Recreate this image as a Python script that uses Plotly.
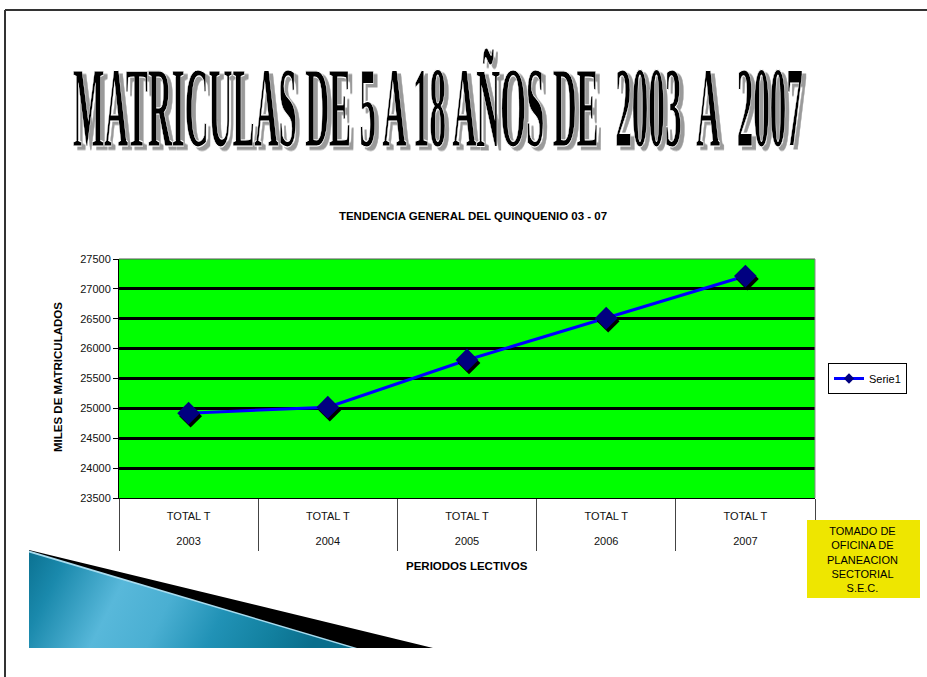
import base64
import plotly.graph_objects as go

# ---------------- data ----------------
years = ["2003", "2004", "2005", "2006", "2007"]
row_labels = ["TOTAL T", "TOTAL T", "TOTAL T", "TOTAL T", "TOTAL T"]
values = [24920, 25020, 25810, 26510, 27215]
y_ticks = [23500, 24000, 24500, 25000, 25500, 26000, 26500, 27000, 27500]
series_name = "Serie1"
main_title = "MATRICULAS DE 5 A 18 AÑOS DE\u00a0 2003\u00a0 A\u00a0 2007"
chart_title = "TENDENCIA GENERAL DEL QUINQUENIO 03 - 07"
x_title = "PERIODOS LECTIVOS"
y_title = "MILES DE MATRICULADOS"
source_note = "TOMADO DE<br>OFICINA DE<br>PLANEACION<br>SECTORIAL<br>S.E.C."

# ---------------- layout geometry (pixels) ----------------
W, H = 927, 677
L, R, T, B = 119, 815, 259, 498
ymin, ymax = y_ticks[0], y_ticks[-1]


def px(x):
    return (x - L) / (R - L)


def py(y):
    return (B - y) / (B - T)


idx = list(range(len(years)))
n = len(years)
# marker shadow offsets in data units (2px right, 3px down)
dx = 2 * n / (R - L)
dy = 3 * (ymax - ymin) / (B - T)

ARIAL = "Arial, Liberation Sans, sans-serif"

fig = go.Figure()

# line on the category axis
fig.add_trace(go.Scatter(
    x=years, y=values, mode="lines",
    line=dict(color="#0000FF", width=3), showlegend=False, hoverinfo="skip",
    xaxis="x", yaxis="y"))

# marker shadows (shifted overlay axes)
fig.add_trace(go.Scatter(
    x=idx, y=values, mode="markers",
    marker=dict(symbol="diamond", size=17.5, color="#000000"),
    showlegend=False, hoverinfo="skip", xaxis="x2", yaxis="y2"))

# markers
fig.add_trace(go.Scatter(
    x=idx, y=values, mode="markers", name=series_name,
    marker=dict(symbol="diamond", size=17.5, color="#000080"),
    showlegend=False, xaxis="x3", yaxis="y3"))

# legend entry
fig.add_trace(go.Scatter(
    x=[None], y=[None], mode="lines+markers", name=series_name,
    line=dict(color="#0000FF", width=3),
    marker=dict(symbol="diamond", size=8, color="#000080"),
    xaxis="x", yaxis="y"))

tickfont = dict(family=ARIAL, size=11, color="#111111")

# decorative wedge as an inline SVG image
wedge_svg = """<svg xmlns='http://www.w3.org/2000/svg' width='404' height='98' viewBox='0 0 404 98' preserveAspectRatio='none'>
<defs><linearGradient id='g' x1='0' y1='0' x2='1' y2='0.15'>
<stop offset='0' stop-color='#0B7292'/><stop offset='0.12' stop-color='#1A89AC'/>
<stop offset='0.33' stop-color='#58B8DA'/><stop offset='0.5' stop-color='#4AAFD2'/>
<stop offset='0.68' stop-color='#2192B6'/><stop offset='0.86' stop-color='#12809F'/>
<stop offset='1' stop-color='#0A6E8C'/></linearGradient></defs>
<polygon points='0,0 404,98 0,98' fill='#000000'/>
<polygon points='0,0.5 328,98 0,98' fill='#A8DCEF'/>
<polygon points='0,2.5 323,98 0,98' fill='url(#g)'/>
</svg>"""
wedge_src = "data:image/svg+xml;base64," + base64.b64encode(wedge_svg.encode()).decode()

images = [dict(source=wedge_src, xref="paper", yref="paper", x=px(29), y=py(550),
               sizex=(433 - 29) / (R - L), sizey=(648 - 550) / (B - T),
               xanchor="left", yanchor="top", sizing="stretch", layer="above")]

shapes = [
    # page frame
    dict(type="line", xref="paper", yref="paper", x0=px(5), x1=px(5), y0=py(10), y1=py(680),
         line=dict(color="#333333", width=2)),
    dict(type="line", xref="paper", yref="paper", x0=px(5), x1=px(930), y0=py(10), y1=py(10),
         line=dict(color="#333333", width=2)),
    # plot area border (top/right)
    dict(type="line", xref="paper", yref="paper", x0=0, x1=1, y0=1, y1=1,
         line=dict(color="#555555", width=1), layer="above"),
    dict(type="line", xref="paper", yref="paper", x0=1, x1=1, y0=0, y1=1,
         line=dict(color="#888888", width=1), layer="above"),
    # source box
    dict(type="rect", xref="paper", yref="paper", x0=px(807), x1=px(920), y0=py(598), y1=py(520),
         fillcolor="#EEE600", line=dict(width=0)),
]

serif = "Liberation Serif, Times New Roman, serif"
annotations = [
    dict(text="<b>" + main_title + "</b>", xref="paper", yref="paper", x=px(440), y=py(110),
         xanchor="center", yanchor="middle",
         showarrow=False, font=dict(family=serif, size=36, color="#000000")),
    dict(text="<b>" + y_title + "</b>", xref="paper", yref="paper", x=px(58), y=py(377),
         xanchor="center", yanchor="middle", textangle=-90, showarrow=False,
         font=dict(family=ARIAL, size=11.5, color="#000000")),
    dict(text="<b>" + x_title + "</b>", xref="paper", yref="paper", x=px(467), y=py(566),
         xanchor="center", yanchor="middle", showarrow=False,
         font=dict(family=ARIAL, size=11.5, color="#000000")),
    dict(text=source_note, xref="paper", yref="paper", x=px(863), y=py(559),
         xanchor="center", yanchor="middle", showarrow=False, align="center",
         font=dict(family=ARIAL, size=11, color="#000000")),
]

fig.update_layout(
    width=W, height=H,
    margin=dict(l=L, r=W - R, t=T, b=H - B, pad=0, autoexpand=False),
    paper_bgcolor="#FFFFFF",
    plot_bgcolor="#00FF00",
    title=dict(text="<b>" + chart_title + "</b>", x=px(473), xref="paper", xanchor="center",
               y=1 - 216 / H, yref="container", yanchor="middle",
               font=dict(family=ARIAL, size=11.5, color="#000000")),
    xaxis=dict(type="category", categoryorder="array", categoryarray=years,
               range=[-0.5, n - 0.5], tickmode="array", tickvals=years, ticktext=row_labels,
               ticks="outside", tickson="boundaries", ticklen=52, tickwidth=1,
               tickcolor="#444444", ticklabelstandoff=8,
               showline=True, linecolor="#000000", linewidth=1,
               showgrid=False, zeroline=False, tickfont=tickfont),
    yaxis=dict(range=[ymin, ymax], tickmode="array", tickvals=y_ticks, tickformat="d",
               showgrid=True, gridcolor="#000000",
               gridwidth=3, ticks="outside", ticklen=5, tickcolor="#000000", showline=True,
               linecolor="#000000", linewidth=1, zeroline=False, tickfont=tickfont),
    xaxis2=dict(overlaying="x", anchor="y2", range=[-0.5 - dx, n - 0.5 - dx], visible=False),
    yaxis2=dict(overlaying="y", anchor="x2", range=[ymin + dy, ymax + dy], visible=False),
    xaxis3=dict(overlaying="x", anchor="y3", side="bottom", range=[-0.5, n - 0.5],
                tickmode="array", tickvals=idx, ticktext=years, ticks="",
                ticklabelstandoff=35, showline=False, showgrid=False, zeroline=False,
                tickfont=tickfont),
    yaxis3=dict(overlaying="y", anchor="x3", range=[ymin, ymax], visible=False),
    legend=dict(xref="container", yref="container", x=828 / W, y=1 - 363 / H,
                xanchor="left", yanchor="top", bgcolor="#FFFFFF", bordercolor="#000000",
                borderwidth=1, font=dict(family=ARIAL, size=11, color="#000000"),
                itemwidth=30, tracegroupgap=0),
    shapes=shapes,
    images=images,
    annotations=annotations,
    showlegend=True,
)

post_script = r"""
document.body.style.margin = '0';
document.body.style.padding = '0';
var gd = document.getElementById('{plot_id}');
function fitTitle(){
  var svg = gd.querySelector('svg.main-svg');
  if(!svg) return;
  var ns = 'http://www.w3.org/2000/svg';
  var r0 = svg.getBoundingClientRect();
  var texts = gd.querySelectorAll('text.annotation-text');
  texts.forEach(function(t){
    if ((t.textContent || '').indexOf('MATRICULAS') !== 0) return;
    t.removeAttribute('transform');
    var bb = t.getBBox();
    var fs = parseFloat(window.getComputedStyle(t).fontSize) || 36;
    var m = t.parentNode.getScreenCTM();
    function lx(X){ return (r0.left + X - m.e) / m.a; }
    function ly(Y){ return (r0.top + Y - m.f) / m.d; }
    var baseline = bb.y + 0.891 * fs;
    var capH = 0.662 * fs;
    var xl = lx(73), xr = lx(803), yt = ly(70), yb = ly(146);
    var sx = (xr - xl) / bb.width;
    var sy = (yb - yt) / capH;
    var tx = xl - sx * bb.x;
    var ty = yb - sy * baseline;
    t.setAttribute('transform', 'translate(' + tx + ',' + ty + ') scale(' + sx + ',' + sy + ')');
    var f = document.getElementById('ttlshadow');
    if(!f){
      var defs = document.createElementNS(ns, 'defs');
      f = document.createElementNS(ns, 'filter');
      f.setAttribute('id', 'ttlshadow');
      f.setAttribute('x', '-5%'); f.setAttribute('y', '-20%');
      f.setAttribute('width', '115%'); f.setAttribute('height', '150%');
      var ds = document.createElementNS(ns, 'feDropShadow');
      ds.setAttribute('stdDeviation', '0');
      ds.setAttribute('flood-color', '#9A9A9A');
      ds.setAttribute('flood-opacity', '1');
      f.appendChild(ds);
      defs.appendChild(f);
      svg.appendChild(defs);
    }
    var d = f.querySelector('feDropShadow');
    d.setAttribute('dx', String(4 / sx));
    d.setAttribute('dy', String(3.5 / sy));
    t.style.stroke = '#FFFFFF';
    t.style.strokeWidth = '0.35px';
    t.setAttribute('filter', 'url(#ttlshadow)');
  });
}
fitTitle();
gd.on('plotly_afterplot', fitTitle);
"""

fig.write_html("out.html", post_script=post_script, config={"displayModeBar": False})
